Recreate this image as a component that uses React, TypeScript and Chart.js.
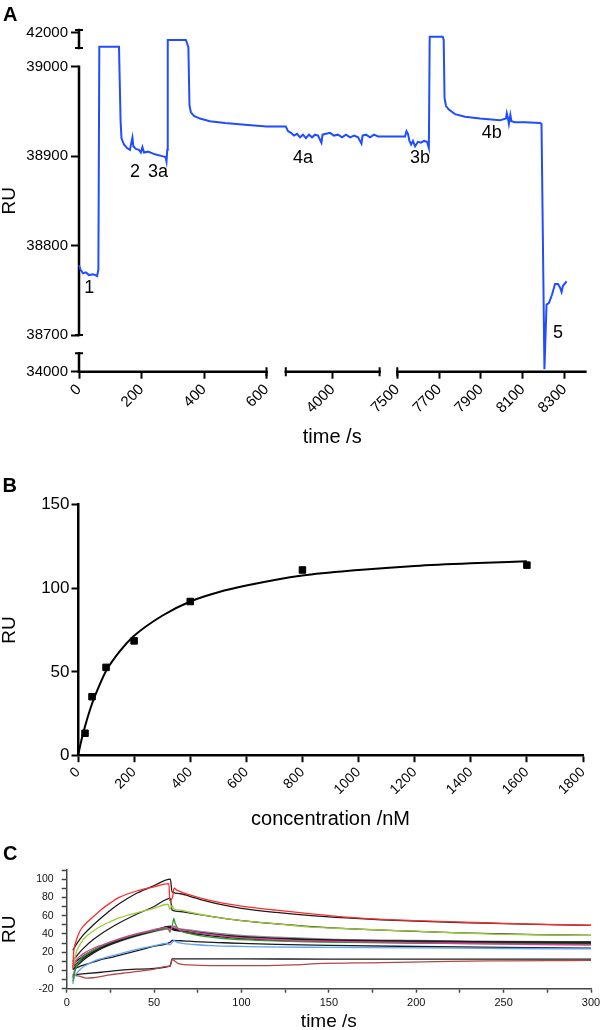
import React, { useEffect, useRef } from 'react';
import { Chart, registerables, LinearScale } from 'chart.js';

Chart.register(...registerables);

const FONT = '"Liberation Sans", Arial, Helvetica, sans-serif';

// ---------------- Panel A data (time /s, RU) ----------------
const timeA = [
  0, 5, 13, 22, 32, 45, 58, 62, 65, 128, 133, 136, 144, 154, 163, 168, 171, 174, 182, 192, 198, 203, 208, 221, 243, 266, 277, 280, 282.5, 284, 342, 346.5, 350, 353.5, 358, 368, 387, 419, 467, 531, 600,
  3700, 3714, 3733, 3752, 3772, 3791, 3810, 3829, 3848, 3868, 3887, 3906, 3928, 3935, 3957, 3983, 4008, 4034, 4060, 4085, 4111, 4137, 4162, 4184, 4191, 4213, 4239, 4264, 4290,
  7500, 7537, 7544, 7551, 7558, 7566, 7575, 7585, 7599, 7613, 7628, 7642, 7651, 7655, 7717, 7722, 7726, 7733, 7747, 7776, 7824, 7896, 7991, 8020, 8024, 8029, 8034, 8041, 8046, 8063, 8111, 8183, 8190, 8204, 8214, 8226, 8240, 8255, 8269, 8279, 8286, 8293, 8310,
];
const ruA = [
  38778, 38773, 38769, 38770, 38767, 38768, 38766, 38773, 40444, 40444, 38940, 38920, 38913, 38909, 38907, 38916, 38921, 38911, 38908, 38907, 38904, 38910, 38904, 38905, 38902, 38900, 38899, 38894, 38907, 41189, 41189, 40744, 40411, 38957, 38949, 38945, 38942, 38939, 38937, 38935, 38933,
  38933, 38928, 38926, 38923, 38925, 38921, 38924, 38920, 38924, 38921, 38924, 38923, 38915, 38924, 38925, 38926, 38923, 38924, 38921, 38924, 38921, 38923, 38921, 38914, 38923, 38924, 38921, 38924, 38922,
  38922, 38922, 38928, 38925, 38917, 38913, 38917, 38911, 38916, 38915, 38917, 38916, 38909, 41556, 41556, 41189, 38965, 38956, 38952, 38947, 38944, 38942, 38940, 38942, 38948, 38943, 38936, 38946, 38939, 38938, 38938, 38937, 38936, 34130, 38734, 38736, 38745, 38757, 38757, 38753, 38748, 38755, 38760,
];
const xTicksA = [0, 200, 400, 600, 4000, 7500, 7700, 7900, 8100, 8300];
const yTicksA = [34000, 38700, 38800, 38900, 39000, 42000];
const markLabelsA = ['1', '2', '3a', '4a', '3b', '4b', '5'];
const markTimeA = [33, 179, 253, 3810, 7609, 7952, 8269];
const markRuA = [38752, 38882, 38882, 38898, 38898, 38926, 38702];

// ---------------- Panel B data ----------------
const concB = [25, 50, 100, 200, 400, 800, 1600];
const ruB = [13.4, 35.2, 52.7, 68.5, 92, 110.8, 113.7];
const fitConcB = [0, 12.5, 25, 50, 75, 100, 150, 200, 300, 400, 500, 600, 800, 1000, 1200, 1400, 1600];
const fitRuB = [0, 9.5, 17.5, 31, 41.5, 50.5, 62.5, 71.5, 83.5, 92, 97.5, 101.5, 107.5, 110.8, 113.2, 114.8, 116];

// ---------------- Panel C data ----------------
const redT = [3.5, 4, 5, 7.5, 10, 15, 20, 25, 30, 40, 50, 58.5, 59, 60.5, 61.5, 63, 70, 80, 90, 100, 120, 140, 160, 180, 200, 225, 250, 275, 300];
const redRU = [2, 20, 30, 43, 49.5, 58.5, 67, 74, 80, 87, 91.5, 95, 76, 80, 90, 88, 83, 77.5, 73.5, 70.5, 66, 62, 58.5, 56, 54.5, 53, 51.5, 50.5, 49.5];
const fitT = [3.5, 5, 7.5, 10, 15, 20, 25, 30, 40, 50, 59.3, 60.3, 65, 70, 80, 90, 100, 120, 140, 160, 180, 200, 225, 250, 275, 300];
const redFitRU = [22, 27, 34, 40, 49.5, 58, 66, 73, 84.5, 93, 100, 86, 84, 81.5, 76, 71.5, 68, 63.5, 60, 57.5, 55.5, 54, 52.5, 51.2, 50.2, 49.4];
const ygT = [3.5, 4.5, 5.5, 7.5, 10, 15, 20, 25, 30, 40, 50, 58, 59, 60.3, 61.5, 65, 70, 80, 90, 100, 120, 140, 160, 180, 200, 225, 250, 275, 300];
const ygRU = [3, 12, 20, 28, 35, 43, 49, 53.5, 57.5, 63, 68, 72.5, 67, 71, 67, 66, 64, 60, 57, 54.5, 51, 47.5, 45.8, 44.3, 43, 41, 39.6, 38.8, 38.3];
const ygFitRU = [10, 14, 20, 25, 33.5, 40.5, 46.5, 52, 61.5, 70, 79, 66, 64.5, 63, 60, 57, 54.5, 51, 48, 45.8, 44.2, 42.8, 41.2, 40, 39, 38.3];
const magT = [3.5, 5, 7.5, 10, 15, 21, 30, 35, 45, 57, 59, 60.5, 61.5, 63, 70, 82, 95, 111, 130, 150, 180, 210, 250, 300];
const magRU = [4, 10, 15.5, 19, 24, 28.4, 34.5, 37.6, 42.5, 46.8, 44, 47, 48.5, 46, 43, 39.4, 36.5, 34.7, 33, 32, 31, 30, 28.8, 27.8];
const greenT = [3.5, 4.5, 6, 8, 10, 15, 20, 30, 40, 50, 58, 59, 60.5, 61.3, 62, 64, 70, 80, 90, 110, 150, 200, 250, 300];
const greenRU = [-12, -2, 6, 12, 16, 22, 27, 34, 39.5, 43.5, 46, 42, 50, 57, 52, 45, 40.5, 37, 35, 33, 31, 30, 29, 28.5];
const grayT = [3.5, 5, 7.5, 10, 15, 20, 30, 40, 50, 58, 60, 62, 70, 80, 100, 120, 150, 200, 250, 300];
const grayRU = [-8, 2, 9, 14, 20, 25, 32, 38, 43, 46, 47, 46, 44, 41.5, 38, 36, 34, 32.5, 31.5, 31];
const midFitT = [3.5, 5, 7.5, 10, 15, 20, 30, 40, 50, 59.3, 60.3, 65, 70, 80, 90, 100, 120, 150, 200, 250, 300];
const magFitRU = [7, 9.5, 13, 16.5, 22, 26.5, 33.5, 39, 44, 48.5, 46, 44.5, 43, 40.5, 38.5, 37, 35, 33.5, 32, 31.3, 30.9];
const greenFitRU = [4, 6.5, 10.5, 14, 20, 25, 32.5, 38.5, 43.5, 47.5, 45, 43, 41, 38.5, 36.5, 35, 33, 31.5, 30.3, 29.8, 29.5];
const grayFitRU = [1, 4, 8, 12, 18.5, 24, 32, 38, 43, 47, 45.5, 44, 42.5, 40, 38, 36.5, 34.5, 33, 32, 31.3, 31];
const blueT = [3.5, 4, 5, 7.6, 10, 15.3, 20, 28.6, 35, 43.9, 50, 57.3, 59, 60.5, 61.5, 63, 72.6, 85, 100, 110.9, 150, 200, 250, 300];
const blueRU = [-15, -10, -5, 0.8, 4.5, 10, 13, 17.3, 20.5, 24.7, 27, 29.5, 28, 31, 32.5, 31, 28.4, 27, 26.3, 25.8, 25.3, 24.8, 24, 23.6];
const blueFitT = [3.5, 5, 7.5, 10, 15, 20, 25, 30, 40, 50, 59.3, 60.3, 65, 70, 80, 90, 100, 120, 150, 200, 250, 300];
const blueFitRU = [1.5, 2.5, 4.5, 6, 9, 12, 14, 16.5, 21.5, 26.5, 31, 33, 32.5, 32, 31, 30.3, 29.6, 28.6, 27.5, 26.2, 25.2, 24.5];
const brownT = [3.5, 5, 7.6, 11.5, 15, 20, 24.8, 35, 43.9, 50, 57.3, 59, 59.7, 60.5, 62, 64, 70, 82.3, 100, 110.9, 130, 143, 180, 219.5, 250, 275, 300];
const brownRU = [-4.8, -5.5, -6.6, -8.5, -8, -6.5, -4.8, -2.5, -0.3, 1.5, 4.4, 5, 9, 11.8, 10, 7.4, 6, 5.2, 5.2, 5.2, 6, 7.4, 8.5, 10, 10.5, 10.8, 11];
const brownFitT = [3.5, 20, 40, 59.3, 60.3, 100, 150, 200, 250, 300];
const brownFitRU = [-4.8, -2, 1.5, 4.8, 12.6, 12.6, 12.5, 12.5, 12.4, 12.4];

// ---------------- broken-axis scale ----------------
type Seg = { min: number; max: number; len: number };

function makeBrokenScale(id: string, segs: Seg[], gaps: number[], tickVals: number[], caps: number[], capHalf: number, lineWidth: number) {
  const starts: number[] = [];
  let acc = 0;
  segs.forEach((s, i) => {
    starts.push(acc);
    acc += s.len + (i < gaps.length ? gaps[i] : 0);
  });
  const total = acc;
  const toDec = (v: number) => {
    for (let i = 0; i < segs.length; i++) {
      const s = segs[i];
      if (v <= s.max || i === segs.length - 1) {
        if (v >= s.min || i === 0) return (starts[i] + ((v - s.min) / (s.max - s.min)) * s.len) / total;
        const p = segs[i - 1];
        const g0 = starts[i - 1] + p.len;
        return (g0 + ((v - p.max) / (s.min - p.max)) * gaps[i - 1]) / total;
      }
    }
    return 1;
  };
  const fromDec = (d: number) => {
    const pos = d * total;
    for (let i = 0; i < segs.length; i++) {
      const s = segs[i];
      const end = starts[i] + s.len;
      if (pos <= end || i === segs.length - 1) {
        if (pos >= starts[i] || i === 0) return s.min + ((pos - starts[i]) / s.len) * (s.max - s.min);
        const p = segs[i - 1];
        const g0 = starts[i - 1] + p.len;
        return p.max + ((pos - g0) / gaps[i - 1]) * (s.min - p.max);
      }
    }
    return segs[segs.length - 1].max;
  };
  class BrokenScale extends (LinearScale as any) {
    static id = id;
    determineDataLimits() {
      this.min = segs[0].min;
      this.max = segs[segs.length - 1].max;
    }
    buildTicks() {
      return tickVals.map((value) => ({ value }));
    }
    getPixelForValue(value: number) {
      if (value === null || value === undefined || isNaN(value)) return NaN;
      return this.getPixelForDecimal(toDec(value));
    }
    getValueForPixel(pixel: number) {
      return fromDec(this.getDecimalForPixel(pixel));
    }
    drawBorder() {
      const ctx = this.ctx;
      const horiz = this.isHorizontal();
      const edge = horiz ? this.top : this.right;
      ctx.save();
      ctx.strokeStyle = '#000';
      ctx.lineWidth = lineWidth;
      ctx.lineCap = 'square';
      ctx.beginPath();
      segs.forEach((s) => {
        const a = this.getPixelForValue(s.min);
        const b = this.getPixelForValue(s.max);
        if (horiz) {
          ctx.moveTo(a, edge);
          ctx.lineTo(b, edge);
        } else {
          ctx.moveTo(edge, a);
          ctx.lineTo(edge, b);
        }
      });
      ctx.stroke();
      ctx.lineCap = 'butt';
      ctx.lineWidth = 2;
      ctx.beginPath();
      caps.forEach((v) => {
        const p = this.getPixelForValue(v);
        if (horiz) {
          ctx.moveTo(p, edge - capHalf);
          ctx.lineTo(p, edge + capHalf);
        } else {
          ctx.moveTo(edge - capHalf, p);
          ctx.lineTo(edge + capHalf, p);
        }
      });
      ctx.stroke();
      ctx.restore();
    }
  }
  return BrokenScale;
}

const BrokenX = makeBrokenScale(
  'brokenX',
  [
    { min: 0, max: 600, len: 187.5 },
    { min: 3700, max: 4300, len: 93.8 },
    { min: 7500, max: 8400, len: 188.1 },
  ],
  [19.3, 17.7],
  xTicksA,
  [600, 3700, 4300, 7500],
  4.5,
  2.5
);
const BrokenY = makeBrokenScale(
  'brokenY',
  [
    { min: 34000, max: 35000, len: 18.4 },
    { min: 38700, max: 39000, len: 268.3 },
    { min: 40300, max: 42300, len: 18 },
  ],
  [18.3, 18.7],
  yTicksA,
  [35000, 38700, 40300, 42300],
  4,
  2.5
);
Chart.register(BrokenX as any, BrokenY as any);

const annotatePlugin = {
  id: 'annotA',
  afterDatasetsDraw(chart: any) {
    const { ctx, scales } = chart;
    ctx.save();
    ctx.font = `18px ${FONT}`;
    ctx.fillStyle = '#000';
    ctx.textAlign = 'center';
    ctx.textBaseline = 'middle';
    markLabelsA.forEach((t, i) => {
      ctx.fillText(t, scales.x.getPixelForValue(markTimeA[i]), scales.y.getPixelForValue(markRuA[i]));
    });
    ctx.restore();
  },
};

const pts = (xs: number[], ys: number[]) => xs.map((x, i) => ({ x, y: ys[i] }));

const baseOpts = {
  animation: false,
  responsive: false,
  maintainAspectRatio: false,
  events: [],
  plugins: { legend: { display: false }, tooltip: { enabled: false }, title: { display: false } },
};

export default function App() {
  const refA = useRef<HTMLCanvasElement>(null);
  const refB = useRef<HTMLCanvasElement>(null);
  const refC = useRef<HTMLCanvasElement>(null);

  useEffect(() => {
    document.body.style.overflow = 'hidden';
    const charts: Chart[] = [];

    // ---------- Panel A ----------
    charts.push(
      new Chart(refA.current as HTMLCanvasElement, {
        type: 'line',
        data: {
          datasets: [
            {
              data: pts(timeA, ruA),
              borderColor: '#1f4dff',
              borderWidth: 2,
              pointRadius: 0,
              tension: 0,
            },
          ],
        },
        options: {
          ...baseOpts,
          layout: { padding: { left: 0, top: 30, right: 14.6, bottom: 13 } },
          scales: {
            x: {
              type: 'brokenX',
              position: 'bottom',
              afterFit: (s: any) => {
                s.height = 75.3;
                s.paddingLeft = 0;
                s.paddingRight = 0;
              },
              border: { display: false },
              grid: { drawOnChartArea: false, drawTicks: true, tickLength: 7, color: '#000', tickWidth: 2 },
              ticks: {
                autoSkip: false,
                minRotation: 45,
                maxRotation: 45,
                padding: 2,
                color: '#000',
                font: { family: FONT, size: 15 },
                callback: (v: any) => String(v),
              },
              title: { display: true, text: 'time /s', color: '#000', font: { family: FONT, size: 20, lineHeight: 1 }, padding: { top: 0, bottom: 0 } },
            },
            y: {
              type: 'brokenY',
              position: 'left',
              afterFit: (s: any) => {
                s.width = 79;
                s.paddingTop = 0;
                s.paddingBottom = 0;
              },
              border: { display: false },
              grid: { drawOnChartArea: false, drawTicks: true, tickLength: 8, color: '#000', tickWidth: 2 },
              ticks: { autoSkip: false, padding: 3, color: '#000', font: { family: FONT, size: 15 }, callback: (v: any) => String(v) },
              title: { display: true, text: 'RU', color: '#000', font: { family: FONT, size: 19, lineHeight: 1 }, padding: { top: 0, bottom: 0 } },
            },
          },
        } as any,
        plugins: [annotatePlugin],
      } as any)
    );

    // ---------- Panel B ----------
    charts.push(
      new Chart(refB.current as HTMLCanvasElement, {
        type: 'line',
        data: {
          datasets: [
            {
              data: pts(concB, ruB),
              showLine: false,
              pointStyle: 'rect',
              pointRadius: 4.6,
              pointBackgroundColor: '#000',
              pointBorderColor: '#000',
              pointBorderWidth: 1,
              clip: false,
            },
            {
              data: pts(fitConcB, fitRuB),
              borderColor: '#000',
              borderWidth: 2,
              pointRadius: 0,
              cubicInterpolationMode: 'monotone',
              clip: false,
            },
          ],
        },
        options: {
          ...baseOpts,
          layout: { padding: { left: 0, top: 34.3, right: 17, bottom: 10.7 } },
          scales: {
            x: {
              type: 'linear',
              min: 0,
              max: 1800,
              afterFit: (s: any) => {
                s.height = 73.6;
                s.paddingLeft = 0;
                s.paddingRight = 0;
              },
              border: { display: true, color: '#000', width: 2.5 },
              grid: { drawOnChartArea: false, drawTicks: true, tickLength: 6.5, color: '#000', tickWidth: 2 },
              ticks: {
                stepSize: 200,
                autoSkip: false,
                minRotation: 45,
                maxRotation: 45,
                padding: 2,
                color: '#000',
                font: { family: FONT, size: 14 },
                callback: (v: any) => String(v),
              },
              title: { display: true, text: 'concentration /nM', color: '#000', font: { family: FONT, size: 20, lineHeight: 1 }, padding: { top: 0, bottom: 0 } },
            },
            y: {
              type: 'linear',
              min: 0,
              max: 150,
              afterFit: (s: any) => {
                s.width = 78;
                s.paddingTop = 0;
                s.paddingBottom = 0;
              },
              border: { display: true, color: '#000', width: 2.5 },
              grid: { drawOnChartArea: false, drawTicks: true, tickLength: 6.5, color: '#000', tickWidth: 2 },
              ticks: { stepSize: 50, padding: 2, color: '#000', font: { family: FONT, size: 17 } },
              title: { display: true, text: 'RU', color: '#000', font: { family: FONT, size: 19, lineHeight: 1 }, padding: { top: 0, bottom: 0 } },
            },
          },
        } as any,
      } as any)
    );

    // ---------- Panel C ----------
    const ln = (xs: number[], ys: number[], color: string, width = 1.3) => ({
      data: pts(xs, ys),
      borderColor: color,
      borderWidth: width,
      pointRadius: 0,
      cubicInterpolationMode: 'monotone',
    });
    charts.push(
      new Chart(refC.current as HTMLCanvasElement, {
        type: 'line',
        data: {
          datasets: [
            ln(redT, redRU, '#ff2b2b'),
            ln(ygT, ygRU, '#9ccc3a'),
            ln(magT, magRU, '#e03c9c'),
            ln(greenT, greenRU, '#2f9a2f'),
            ln(blueT, blueRU, '#62a4f4'),
            ln(brownT, brownRU, '#b04848'),
            ln(fitT, redFitRU, '#1c1c1c'),
            ln(fitT, ygFitRU, '#1c1c1c'),
            ln(midFitT, magFitRU, '#1c1c1c'),
            ln(midFitT, greenFitRU, '#1c1c1c'),
            ln(midFitT, grayFitRU, '#1c1c1c'),
            ln(blueFitT, blueFitRU, '#1c1c1c'),
            ln(brownFitT, brownFitRU, '#1c1c1c'),
            ln(grayT, grayRU, '#8a8a8a', 2),
          ],
        },
        options: {
          ...baseOpts,
          layout: { padding: { left: 0, top: 10, right: 9, bottom: 0 } },
          scales: {
            x: {
              type: 'linear',
              min: 0,
              max: 300,
              afterFit: (s: any) => {
                s.height = 41.3;
                s.paddingLeft = 0;
                s.paddingRight = 0;
              },
              border: { display: true, color: '#444', width: 1.5 },
              grid: { drawOnChartArea: false, drawTicks: true, tickLength: 4, color: '#444', tickWidth: 1.5 },
              ticks: {
                stepSize: 25,
                autoSkip: false,
                maxRotation: 0,
                padding: 4,
                color: '#111',
                font: { family: FONT, size: 11 },
                callback: (v: any) => (v % 50 === 0 ? String(v) : ''),
              },
              title: { display: true, text: 'time /s', color: '#000', font: { family: FONT, size: 19, lineHeight: 0.9 }, padding: { top: 0, bottom: 0 } },
            },
            y: {
              type: 'linear',
              min: -20,
              max: 110,
              afterFit: (s: any) => {
                s.width = 66.7;
                s.paddingTop = 0;
                s.paddingBottom = 0;
              },
              border: { display: true, color: '#444', width: 1.5 },
              grid: { drawOnChartArea: false, drawTicks: true, tickLength: 5, color: '#444', tickWidth: 1.5 },
              ticks: {
                stepSize: 10,
                autoSkip: false,
                padding: 8,
                color: '#111',
                font: { family: FONT, size: 10.5 },
                callback: (v: any) => (v % 20 === 0 && v <= 100 ? String(v) : ''),
              },
              title: { display: true, text: 'RU', color: '#000', font: { family: FONT, size: 19, lineHeight: 1 }, padding: { top: 0, bottom: 0 } },
            },
          },
        } as any,
      } as any)
    );

    return () => {
      charts.forEach((c) => c.destroy());
    };
  }, []);

  const letter = (text: string, left: number, top: number) => (
    <div
      style={{
        position: 'absolute',
        left,
        top,
        fontFamily: FONT,
        fontWeight: 'bold',
        fontSize: 20,
        lineHeight: '20px',
        color: '#000',
      }}
    >
      {text}
    </div>
  );

  return (
    <div style={{ position: 'absolute', left: 0, top: 0, width: 600, height: 1030, overflow: 'hidden', background: '#fff' }}>
      <canvas ref={refA} width={600} height={460} style={{ position: 'absolute', left: 0, top: 0 }} />
      <canvas ref={refB} width={600} height={370} style={{ position: 'absolute', left: 0, top: 470 }} />
      <canvas ref={refC} width={600} height={170} style={{ position: 'absolute', left: 0, top: 860 }} />
      {letter('A', 3, 4)}
      {letter('B', 2.5, 474.7)}
      {letter('C', 3, 843)}
    </div>
  );
}
